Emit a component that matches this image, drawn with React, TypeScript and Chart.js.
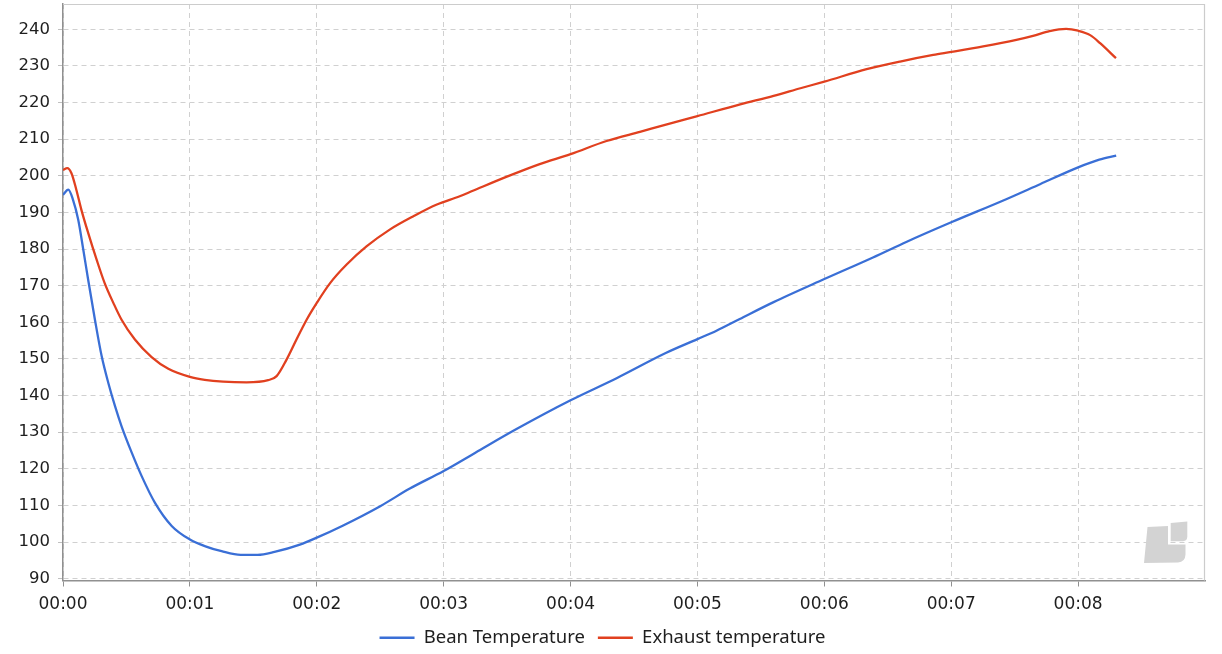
import { useEffect, useRef } from "react";
import { Chart, registerables } from "chart.js";

Chart.register(...registerables);

// ---- data (seconds since start, °C) ----
const beanTimes = [0, 2.5, 4.7, 7.2, 9.6, 11.9, 15.1, 18.3, 21.4, 24.6, 27.7, 32.5, 37.2, 43.5, 51.4, 60, 67, 75, 84, 92, 100, 112, 120, 132, 150, 164, 180, 195, 214, 240, 262, 285, 300, 309, 320, 336, 360, 383, 399, 420, 446, 462, 480, 490, 498];
const beanTemps = [194.8, 196.2, 193.5, 188, 179.8, 171.6, 160.7, 150.7, 143.5, 137.1, 131.6, 124.4, 118, 110.7, 104.4, 100.7, 98.9, 97.5, 96.5, 96.5, 97.3, 99.3, 101.2, 104.4, 109.8, 114.6, 119.4, 124.4, 130.7, 138.7, 144.8, 151.6, 155.4, 157.7, 160.9, 165.5, 171.8, 177.7, 182.0, 187.3, 193.6, 197.7, 202.3, 204.4, 205.5];

const exhaustTimes = [0, 2, 4, 6.3, 8.7, 11.9, 15.9, 19.7, 23.8, 27.7, 34, 41.9, 49.8, 60, 67, 75.7, 86.8, 97, 101, 105.7, 110.4, 115.2, 120, 126.3, 134, 143.5, 154.5, 165.5, 176.5, 187.6, 193.8, 209.6, 225.4, 240, 257, 272.8, 288.6, 300, 320.2, 336, 348.7, 360, 380, 395.8, 411.5, 420, 435.1, 450.8, 458.7, 466.5, 474.3, 480, 485.7, 490.4, 497.9];
const exhaustTemps = [201.6, 202.1, 200.7, 196.2, 190.7, 184.4, 177.1, 170.7, 165.3, 160.7, 155.3, 150.5, 147.3, 145.1, 144.3, 143.8, 143.6, 144.2, 145.3, 149.8, 155.3, 160.7, 165.3, 170.7, 175.7, 180.7, 185.3, 188.9, 192.1, 194.4, 195.9, 199.7, 203.2, 205.9, 209.5, 212, 214.5, 216.3, 219.5, 221.8, 223.9, 225.7, 229.1, 231.2, 233, 233.8, 235.3, 237.1, 238.2, 239.5, 240.1, 239.6, 238.4, 236.2, 232.1];

const seriesNames = ["Bean Temperature", "Exhaust temperature"];
const xTicks = [0, 60, 120, 180, 240, 300, 360, 420, 480];
const yTicks = [90, 100, 110, 120, 130, 140, 150, 160, 170, 180, 190, 200, 210, 220, 230, 240];

const X_MIN = 0;
const X_MAX = 540;
const Y_MIN = 89.5;
const Y_MAX = 246.9;

const fmtTime = (v: number) => "00:" + String(Math.round(v / 60)).padStart(2, "0");

const decorPlugin = {
  id: "decor",
  beforeDatasetsDraw(chart: any) {
    const { ctx, chartArea } = chart;
    const { left, top, right, bottom } = chartArea;
    ctx.save();
    // light frame on top and right
    ctx.strokeStyle = "#cccccc";
    ctx.lineWidth = 1.2;
    ctx.beginPath();
    ctx.moveTo(left, top + 0.5);
    ctx.lineTo(right - 0.5, top + 0.5);
    ctx.lineTo(right - 0.5, bottom);
    ctx.stroke();
    // watermark logo
    ctx.fillStyle = "#d3d3d3";
    const r = right, b = bottom;
    ctx.beginPath();
    ctx.moveTo(r - 34.3, b - 57.5);
    ctx.lineTo(r - 17.7, b - 59.0);
    ctx.lineTo(r - 17.7, b - 44);
    ctx.quadraticCurveTo(r - 17.7, b - 39.5, r - 22, b - 39.3);
    ctx.lineTo(r - 34.3, b - 39.3);
    ctx.closePath();
    ctx.fill();
    ctx.beginPath();
    ctx.moveTo(r - 57.5, b - 53.5);
    ctx.lineTo(r - 37, b - 54.5);
    ctx.lineTo(r - 37, b - 36);
    ctx.lineTo(r - 19.5, b - 36);
    ctx.lineTo(r - 19.5, b - 26);
    ctx.quadraticCurveTo(r - 19.8, b - 18.5, r - 27, b - 18);
    ctx.lineTo(r - 61, b - 17.5);
    ctx.closePath();
    ctx.fill();
    ctx.restore();
  },
};

export default function App() {
  const canvasRef = useRef<HTMLCanvasElement | null>(null);

  useEffect(() => {
    if (!canvasRef.current) return;
    const chart = new Chart(canvasRef.current, {
      type: "line",
      data: {
        datasets: [
          {
            label: seriesNames[0],
            data: beanTimes.map((t, i) => ({ x: t, y: beanTemps[i] })),
            borderColor: "#3a6fd6",
            backgroundColor: "#3a6fd6",
            borderWidth: 2.3,
            pointRadius: 0,
            cubicInterpolationMode: "monotone",
            fill: false,
          },
          {
            label: seriesNames[1],
            data: exhaustTimes.map((t, i) => ({ x: t, y: exhaustTemps[i] })),
            borderColor: "#e1401f",
            backgroundColor: "#e1401f",
            borderWidth: 2.3,
            pointRadius: 0,
            cubicInterpolationMode: "monotone",
            fill: false,
          },
        ],
      },
      options: {
        animation: false,
        responsive: false,
        devicePixelRatio: 1,
        layout: { padding: { top: 4, right: 17, left: 0, bottom: -3 } },
        plugins: {
          tooltip: { enabled: false },
          legend: {
            position: "bottom",
            labels: {
              usePointStyle: true,
              pointStyle: "line",
              pointStyleWidth: 35,
              boxHeight: 18,
              padding: 13,
              color: "#1e1e1e",
              font: { family: "'Noto Sans', sans-serif", size: 18.5 },
            },
          },
        },
        scales: {
          x: {
            type: "linear",
            min: X_MIN,
            max: X_MAX,
            afterBuildTicks: (s: any) => {
              s.ticks = xTicks.map((v) => ({ value: v }));
            },
            afterFit: (s: any) => {
              s.height = 35;
            },
            ticks: {
              callback: (v: any) => fmtTime(Number(v)),
              font: { family: "'DejaVu Sans', sans-serif", size: 17 },
              color: "#1e1e1e",
              padding: 8,
              maxRotation: 0,
              autoSkip: false,
            },
            grid: { color: "#d0d0d0", lineWidth: 1, tickLength: 6, tickColor: "#909090" },
            border: { color: "#909090", width: 1.5, dash: [5, 4] },
          },
          y: {
            type: "linear",
            min: Y_MIN,
            max: Y_MAX,
            afterBuildTicks: (s: any) => {
              s.ticks = yTicks.map((v) => ({ value: v }));
            },
            afterFit: (s: any) => {
              s.width = 63;
              s.paddingTop = 0;
              s.paddingBottom = 0;
            },
            ticks: {
              font: { family: "'DejaVu Sans', sans-serif", size: 16.5 },
              color: "#1e1e1e",
              padding: 8,
            },
            grid: { color: "#d0d0d0", lineWidth: 1, tickLength: 5, tickColor: "#c0c0c0" },
            border: { color: "#909090", width: 1.5, dash: [5, 4] },
          },
        },
      },
      plugins: [decorPlugin],
    } as any);
    return () => chart.destroy();
  }, []);

  return (
    <div style={{ position: "fixed", left: 0, top: 0, width: 1222, height: 654, background: "#fff" }}>
      <canvas ref={canvasRef} width={1222} height={654} style={{ display: "block" }} />
    </div>
  );
}
